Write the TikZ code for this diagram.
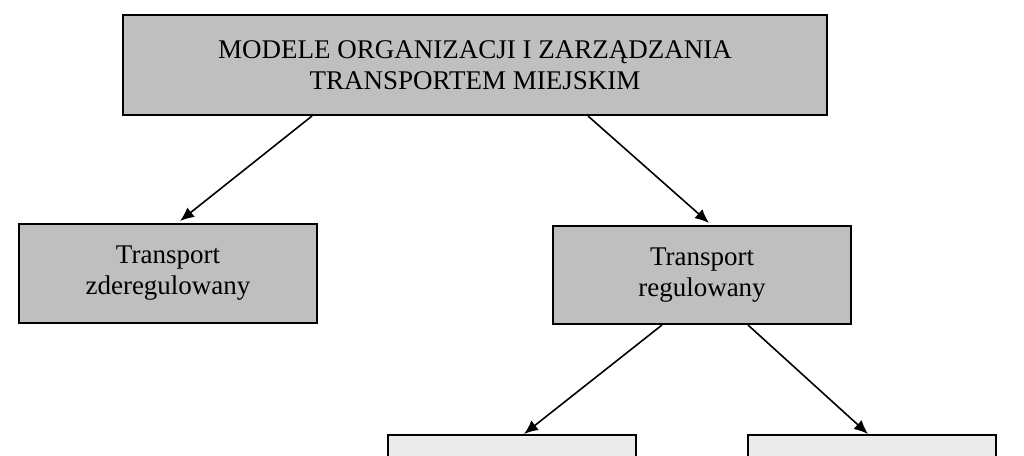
\documentclass[tikz,border=0pt]{standalone}
\usepackage{fontspec}
\setmainfont{Liberation Serif}
\usetikzlibrary{arrows.meta}
\begin{document}
\begin{tikzpicture}[x=1pt,y=-1pt,
  box/.style={draw=black,line width=2pt,fill=black!25},
  lbox/.style={draw=black,line width=2pt,fill=black!8},
  lab/.style={font=\fontsize{27}{31}\selectfont,align=center},
  arr/.style={line width=1.6pt,-{Latex[length=14pt,width=12pt]}}]
\useasboundingbox (0,0) rectangle (1024,455);
\begin{scope}
\clip (0,0) rectangle (1024,455);
\draw[box] (123,15) rectangle (827,115);
\node[lab] (top) at (475,65) {MODELE ORGANIZACJI I ZARZĄDZANIA\\TRANSPORTEM MIEJSKIM};
\draw[box] (19,224) rectangle (317,323);
\node[lab] (l) at (168,273) {Transport\\zderegulowany};
\draw[box] (553,226) rectangle (851,324);
\node[lab] (r) at (702,275) {Transport\\regulowany};
\draw[lbox] (388,435) rectangle (636,520);
\draw[lbox] (748,435) rectangle (996,520);
\coordinate (a1) at (312,116); \coordinate (a2) at (180,221);
\coordinate (b1) at (588,116); \coordinate (b2) at (709,223);
\coordinate (c1) at (662,325); \coordinate (c2) at (524,434);
\coordinate (d1) at (748,325); \coordinate (d2) at (868,434);
\draw[arr] (a1) -- (a2);
\draw[arr] (b1) -- (b2);
\draw[arr] (c1) -- (c2);
\draw[arr] (d1) -- (d2);
\end{scope}
\end{tikzpicture}
\end{document}
